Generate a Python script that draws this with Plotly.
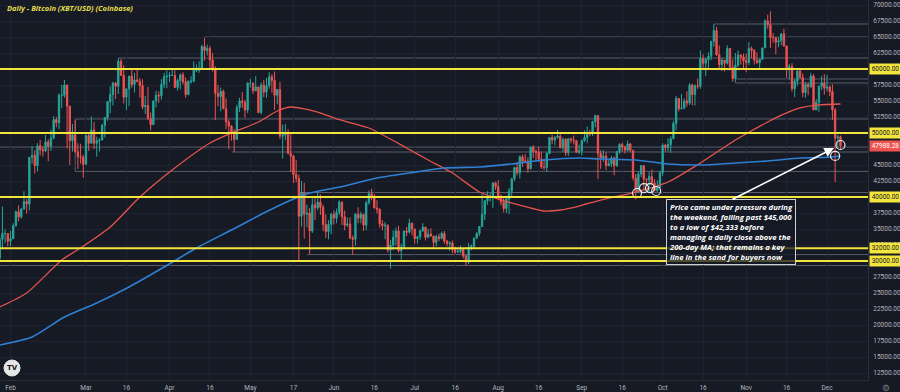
import numpy as np
import pandas as pd
import plotly.graph_objects as go

# ---------------- data (BTC/USD daily, values in thousands of USD) ----------------
start_date = "2021-01-28"
end_date = "2021-12-06"

opens_k = [
    30.4, 33.4, 34.3, 34.3,
    33.1, 33.5, 35.5, 37.7, 36.9, 38.1, 39.3, 38.9, 46.2, 46.5, 44.9, 48.0, 47.4, 47.2, 48.6, 47.9, 49.2, 52.1, 51.6, 55.9, 55.9, 57.5, 54.2, 48.8, 49.7, 47.1, 46.3, 46.2,
    45.1, 49.6, 48.4, 50.5, 48.4, 48.8, 48.9, 51.2, 52.4, 54.9, 56.0, 57.8, 57.3, 61.2, 59.0, 55.6, 56.9, 58.9, 57.6, 58.3, 58.1, 57.4, 54.1, 54.3, 52.3, 51.3, 55.0, 55.9, 55.8, 57.6, 58.8,
    58.9, 59.0, 59.0, 57.1, 58.2, 59.1, 58.0, 56.0, 58.1, 58.1, 59.8, 59.8, 60.0, 63.5, 62.9, 63.2, 61.4, 60.1, 56.2, 55.7, 56.5, 53.8, 51.7, 51.1, 50.0, 49.0, 54.0, 55.0, 54.8, 53.6,
    57.8, 57.8, 56.6, 57.2, 53.2, 57.5, 56.4, 57.4, 58.8, 58.2, 55.9, 56.8, 49.5, 49.7, 49.9, 46.8, 46.4, 43.5, 42.9, 37.0, 40.7, 37.3, 37.5, 34.7, 38.8, 38.3, 39.2, 38.4, 35.7, 34.6, 35.7,
    37.3, 36.7, 37.6, 39.2, 36.9, 35.6, 35.8, 33.6, 33.4, 37.3, 36.7, 37.3, 35.6, 39.1, 40.5, 40.1, 38.3, 38.1, 35.8, 35.5, 35.6, 31.7, 32.5, 33.7, 34.7, 31.6, 32.2, 34.7, 34.5, 35.9,
    35.0, 33.5, 33.8, 34.7, 35.3, 33.7, 34.2, 33.9, 32.9, 33.8, 33.5, 34.3, 33.1, 32.7, 32.8, 31.8, 31.4, 31.5, 31.8, 30.8, 29.8, 32.1, 32.3, 33.6, 34.3, 35.4, 37.3, 39.4, 40.0, 40.0, 42.2,
    41.6, 39.9, 39.2, 38.2, 39.7, 40.9, 42.8, 44.6, 43.8, 46.3, 45.6, 45.6, 44.4, 47.8, 47.1, 47.0, 45.9, 44.7, 44.6, 46.8, 49.3, 48.9, 49.3, 49.5, 47.7, 49.0, 46.9, 49.1, 48.9, 48.8, 47.0,
    47.2, 48.8, 49.3, 50.0, 49.9, 51.8, 52.7, 46.8, 46.1, 46.4, 44.9, 45.2, 46.1, 44.9, 47.1, 48.2, 47.8, 47.3, 48.3, 47.3, 43.0, 40.7, 43.6, 44.9, 42.8, 42.7, 43.2, 42.2, 41.0, 41.5,
    43.8, 48.1, 47.7, 48.2, 49.1, 51.5, 55.4, 53.8, 53.9, 55.0, 54.7, 57.5, 56.0, 57.4, 57.3, 61.7, 60.9, 61.5, 62.0, 64.3, 66.0, 62.2, 60.7, 61.4, 60.9, 63.2, 60.3, 58.5, 60.6, 62.2, 61.9,
    61.3, 61.0, 63.2, 62.9, 61.4, 61.0, 61.5, 63.3, 67.5, 66.9, 64.9, 64.9, 64.2, 64.4, 65.5, 63.6, 60.2, 60.4, 56.9, 58.1, 59.7, 58.7, 56.3, 57.6, 57.2, 58.9, 53.6, 54.8, 57.3, 57.8,
    57.0, 57.2, 56.5, 53.6, 49.2, 49.4,
]

highs_k = [
    33.8, 38.5, 34.9, 34.3,
    34.7, 35.9, 37.9, 38.7, 38.3, 40.9, 39.7, 46.2, 48.0, 47.3, 48.4, 48.9, 48.0, 49.7, 49.0, 50.5, 52.6, 52.5, 56.2, 57.5, 58.3, 57.5, 54.2, 51.4, 52.0, 48.4, 48.3, 46.6,
    49.8, 50.1, 52.6, 51.7, 49.4, 49.2, 51.4, 52.4, 54.9, 57.3, 58.0, 58.0, 61.7, 61.6, 60.6, 56.9, 58.9, 60.0, 59.4, 59.9, 58.6, 58.4, 55.8, 57.2, 53.2, 55.1, 56.6, 56.5, 58.4, 59.4, 59.8,
    59.5, 60.1, 59.8, 58.5, 59.3, 59.5, 58.7, 58.2, 58.9, 61.2, 60.7, 61.2, 63.8, 64.9, 63.8, 63.6, 62.5, 60.4, 57.5, 57.1, 56.8, 55.4, 52.1, 51.2, 50.6, 54.4, 55.5, 56.4, 55.2, 57.9,
    58.5, 57.9, 58.9, 57.2, 57.9, 58.3, 58.6, 59.5, 59.2, 59.6, 56.9, 58.0, 51.3, 51.4, 50.6, 49.8, 46.6, 45.8, 43.5, 42.5, 42.2, 38.8, 38.3, 39.8, 39.8, 40.8, 40.4, 38.8, 37.3, 36.4, 37.5,
    37.9, 38.2, 39.5, 39.3, 37.9, 36.8, 36.8, 34.0, 37.5, 38.4, 37.7, 37.4, 39.4, 41.0, 41.3, 40.5, 39.5, 38.2, 36.4, 36.1, 35.7, 33.3, 34.8, 35.2, 35.5, 32.7, 34.7, 35.3, 36.6, 36.0,
    35.0, 33.9, 34.9, 35.9, 35.3, 35.0, 35.1, 33.9, 34.1, 34.3, 34.6, 34.7, 33.3, 33.1, 33.2, 32.2, 31.9, 32.4, 31.9, 31.0, 32.8, 32.6, 33.6, 34.5, 35.4, 40.5, 39.5, 40.9, 40.6, 42.3, 42.4,
    42.6, 40.4, 39.8, 39.9, 41.4, 43.0, 44.7, 45.3, 46.5, 46.6, 46.7, 46.2, 47.9, 48.1, 47.4, 47.9, 47.1, 46.0, 47.0, 49.3, 49.7, 49.5, 50.5, 49.8, 49.3, 49.2, 49.2, 49.3, 49.6, 48.9, 48.2,
    49.0, 50.4, 51.0, 50.5, 51.9, 52.9, 52.8, 47.3, 47.3, 47.0, 45.9, 46.4, 46.3, 47.2, 48.4, 48.5, 48.0, 48.8, 48.4, 47.3, 43.6, 44.0, 45.0, 45.0, 42.9, 43.9, 44.3, 42.8, 42.6, 44.1,
    48.4, 48.3, 49.2, 49.5, 51.9, 55.8, 55.4, 56.1, 55.4, 56.5, 57.8, 57.7, 57.6, 58.5, 62.9, 62.3, 61.7, 62.6, 64.4, 67.0, 66.6, 63.7, 61.7, 61.4, 63.7, 63.3, 61.5, 62.5, 62.9, 62.2, 62.4,
    62.4, 64.2, 63.5, 63.1, 62.6, 61.6, 63.3, 67.8, 68.5, 69.0, 65.6, 65.0, 65.0, 65.5, 66.3, 63.6, 60.8, 60.9, 58.4, 59.8, 60.0, 59.3, 58.0, 57.8, 59.4, 59.2, 55.3, 57.4, 58.9, 59.2,
    59.1, 57.4, 57.6, 53.9, 49.7, 49.6,
]

lows_k = [
    30.0, 31.9, 32.8, 32.3,
    32.3, 33.4, 35.4, 36.2, 36.6, 38.1, 37.4, 37.9, 45.2, 43.7, 44.0, 46.5, 46.3, 47.0, 45.6, 47.2, 49.0, 50.9, 50.6, 53.9, 55.5, 47.6, 45.0, 47.1, 46.9, 44.4, 45.2, 43.0,
    45.1, 47.2, 48.4, 47.5, 46.3, 47.1, 48.9, 49.3, 51.9, 53.1, 54.3, 55.3, 56.1, 59.0, 54.6, 53.6, 54.2, 57.1, 56.3, 57.9, 55.5, 53.7, 53.0, 52.0, 50.4, 51.3, 54.0, 54.7, 55.2, 57.0, 57.0,
    58.0, 58.9, 57.1, 56.6, 56.8, 57.6, 55.5, 55.9, 57.7, 57.9, 59.5, 59.4, 60.0, 61.3, 62.1, 60.0, 59.6, 52.0, 54.2, 53.4, 53.7, 50.6, 47.5, 48.8, 47.0, 48.9, 53.3, 53.9, 52.4, 53.1,
    57.1, 56.1, 56.5, 53.1, 52.9, 55.6, 55.5, 56.9, 56.3, 53.6, 54.5, 49.1, 46.0, 48.9, 46.7, 43.9, 42.2, 42.3, 30.0, 35.4, 33.5, 35.3, 31.1, 34.4, 36.4, 37.9, 37.2, 34.7, 33.6, 33.4, 34.2,
    35.7, 35.9, 37.2, 35.6, 34.8, 35.3, 33.4, 31.0, 32.4, 35.9, 35.9, 34.7, 34.8, 38.8, 39.5, 38.2, 37.4, 35.2, 34.8, 33.4, 31.3, 28.8, 31.7, 32.4, 31.3, 30.2, 32.0, 33.9, 34.3, 34.0,
    32.7, 32.7, 33.3, 34.6, 33.2, 33.6, 33.8, 32.1, 32.3, 33.1, 33.4, 32.7, 32.3, 31.6, 31.2, 31.1, 31.2, 31.2, 30.4, 29.3, 29.5, 31.7, 31.9, 33.4, 33.9, 35.3, 36.4, 38.8, 39.3, 38.3, 41.1,
    39.5, 38.7, 37.6, 37.5, 37.3, 39.9, 42.5, 43.4, 42.9, 44.7, 45.4, 43.8, 44.3, 46.1, 45.6, 45.5, 44.4, 44.2, 43.9, 46.7, 48.3, 48.1, 49.1, 47.6, 47.1, 46.4, 46.4, 48.4, 48.2, 46.9, 46.7,
    46.5, 48.6, 48.4, 49.5, 49.5, 50.9, 42.8, 44.4, 45.5, 44.2, 44.8, 44.7, 43.4, 44.7, 46.7, 47.0, 46.8, 47.1, 47.0, 42.6, 39.6, 40.6, 43.1, 40.9, 41.7, 40.8, 42.1, 40.9, 40.8, 41.4,
    43.3, 47.1, 47.1, 46.9, 49.1, 50.4, 53.4, 53.7, 53.7, 54.1, 54.4, 54.3, 54.3, 56.9, 56.9, 60.2, 58.9, 60.2, 61.4, 63.5, 62.1, 60.0, 59.7, 59.6, 60.7, 59.8, 58.0, 57.9, 60.3, 60.7, 59.9,
    59.5, 60.6, 61.7, 60.7, 60.8, 60.1, 61.4, 63.3, 66.3, 63.3, 64.1, 62.3, 63.4, 63.7, 63.5, 58.6, 58.4, 56.5, 55.6, 57.4, 58.5, 55.6, 55.5, 55.9, 57.1, 53.6, 53.6, 53.3, 56.7, 56.0,
    56.5, 55.8, 52.0, 42.333, 47.7, 47.4,
]

closes_k = [
    33.4, 34.3, 34.3, 33.1,
    33.5, 35.5, 37.7, 36.9, 38.1, 39.3, 38.9, 46.2, 46.5, 44.9, 48.0, 47.4, 47.2, 48.6, 47.9, 49.2, 52.1, 51.6, 55.9, 55.9, 57.5, 54.2, 48.8, 49.7, 47.1, 46.3, 46.2, 45.1,
    49.6, 48.4, 50.5, 48.4, 48.8, 48.9, 51.2, 52.4, 54.9, 56.0, 57.8, 57.3, 61.2, 59.0, 55.6, 56.9, 58.9, 57.6, 58.3, 58.1, 57.4, 54.1, 54.3, 52.3, 51.3, 55.0, 55.9, 55.8, 57.6, 58.8, 58.9,
    59.0, 59.0, 57.1, 58.2, 59.1, 58.0, 56.0, 58.1, 58.1, 59.8, 59.8, 60.0, 63.5, 62.9, 63.2, 61.4, 60.1, 56.2, 55.7, 56.5, 53.8, 51.7, 51.1, 50.0, 49.0, 54.0, 55.0, 54.8, 53.6, 57.8,
    57.8, 56.6, 57.2, 53.2, 57.5, 56.4, 57.4, 58.8, 58.2, 55.9, 56.8, 49.5, 49.7, 49.9, 46.8, 46.4, 43.5, 42.9, 37.0, 40.7, 37.3, 37.5, 34.7, 38.8, 38.3, 39.2, 38.4, 35.7, 34.6, 35.7, 37.3,
    36.7, 37.6, 39.2, 36.9, 35.6, 35.8, 33.6, 33.4, 37.3, 36.7, 37.3, 35.6, 39.1, 40.5, 40.1, 38.3, 38.1, 35.8, 35.5, 35.6, 31.7, 32.5, 33.7, 34.7, 31.6, 32.2, 34.7, 34.5, 35.9, 35.0,
    33.5, 33.8, 34.7, 35.3, 33.7, 34.2, 33.9, 32.9, 33.8, 33.5, 34.3, 33.1, 32.7, 32.8, 31.8, 31.4, 31.5, 31.8, 30.8, 29.8, 32.1, 32.3, 33.6, 34.3, 35.4, 37.3, 39.4, 40.0, 40.0, 42.2, 41.6,
    39.9, 39.2, 38.2, 39.7, 40.9, 42.8, 44.6, 43.8, 46.3, 45.6, 45.6, 44.4, 47.8, 47.1, 47.0, 45.9, 44.7, 44.6, 46.8, 49.3, 48.9, 49.3, 49.5, 47.7, 49.0, 46.9, 49.1, 48.9, 48.8, 47.0, 47.2,
    48.8, 49.3, 50.0, 49.9, 51.8, 52.7, 46.8, 46.1, 46.4, 44.9, 45.2, 46.1, 44.9, 47.1, 48.2, 47.8, 47.3, 48.3, 47.3, 43.0, 40.7, 43.6, 44.9, 42.8, 42.7, 43.2, 42.2, 41.0, 41.5, 43.8,
    48.1, 47.7, 48.2, 49.1, 51.5, 55.4, 53.8, 53.9, 55.0, 54.7, 57.5, 56.0, 57.4, 57.3, 61.7, 60.9, 61.5, 62.0, 64.3, 66.0, 62.2, 60.7, 61.4, 60.9, 63.2, 60.3, 58.5, 60.6, 62.2, 61.9, 61.3,
    61.0, 63.2, 62.9, 61.4, 61.0, 61.5, 63.3, 67.5, 66.9, 64.9, 64.9, 64.2, 64.4, 65.5, 63.6, 60.2, 60.4, 56.9, 58.1, 59.7, 58.7, 56.3, 57.6, 57.2, 58.9, 53.6, 54.8, 57.3, 57.8, 57.0,
    57.2, 56.5, 53.6, 49.2, 49.4, 47.98828,
]

# moving averages
ma100_dates = ["2021-01-28", "2021-02-07", "2021-02-20", "2021-02-27", "2021-03-10", "2021-03-21",
               "2021-04-02", "2021-04-16", "2021-04-24", "2021-05-04", "2021-05-11", "2021-05-16",
               "2021-05-26", "2021-06-02", "2021-06-14", "2021-06-28", "2021-07-06", "2021-07-15",
               "2021-07-25", "2021-07-31", "2021-08-06", "2021-08-18", "2021-08-24", "2021-08-31",
               "2021-09-08", "2021-09-21", "2021-10-03", "2021-10-15", "2021-10-28", "2021-11-09",
               "2021-11-16", "2021-11-21", "2021-11-28", "2021-12-06"]
ma100_values = [22810, 25000, 30160, 32030, 35310, 40000, 44220, 48440, 50000, 51720, 53440, 54060,
                53280, 52190, 50780, 47660, 45780, 43750, 40780, 39840, 39060, 37810, 37970, 38590,
                39530, 40780, 42340, 45310, 48910, 51720, 53130, 53910, 54380, 54530]

ma200_dates = ["2021-01-28", "2021-02-09", "2021-02-21", "2021-03-05", "2021-03-17", "2021-03-30",
               "2021-04-11", "2021-04-24", "2021-05-06", "2021-05-17", "2021-05-23", "2021-06-05",
               "2021-06-17", "2021-06-29", "2021-07-12", "2021-07-25", "2021-08-06", "2021-08-18",
               "2021-08-31", "2021-09-08", "2021-09-21", "2021-10-03", "2021-10-15", "2021-10-28",
               "2021-11-09", "2021-11-21", "2021-12-03", "2021-12-06"]
ma200_values = [16870, 18120, 21250, 23440, 25940, 29060, 32030, 34840, 37500, 39690, 40630, 41720,
                42970, 43750, 44530, 44690, 45160, 45780, 46090, 45940, 45780, 45160, 45000, 45310,
                45630, 46090, 46250, 46450]

# key levels (yellow) and thin grey zone lines
key_levels = [60000, 50000, 40000, 32000, 30000]
zone_prices = [67030, 65000, 61720, 58440, 57810, 52190, 47800, 47030, 44000, 40700, 31000, 29300]
zone_starts = ["2021-10-20", "2021-04-14", "2021-03-13", "2021-10-28", "2021-10-28", "2021-02-25",
               "2021-01-28", "2021-04-24", "2021-02-25", "2021-05-19", "2021-05-22", "2021-01-28"]

# highlighted points (circles)
circle_dates = ["2021-12-06", "2021-12-04", "2021-09-21 12:00", "2021-09-24 02:00",
                "2021-09-26 07:00", "2021-09-28 14:00"]
circle_prices = [48125, 46410, 40625, 41400, 41400, 40940]

last_price = 47988.28

x_tickvals = ["2021-02-01", "2021-03-01", "2021-03-16", "2021-04-01", "2021-04-16", "2021-05-01",
              "2021-05-17", "2021-06-01", "2021-06-16", "2021-07-01", "2021-07-16", "2021-08-01",
              "2021-08-16", "2021-09-01", "2021-09-16", "2021-10-01", "2021-10-16", "2021-11-01",
              "2021-11-16", "2021-12-01"]
x_ticktext = ["Feb", "Mar", "16", "Apr", "16", "May", "17", "Jun", "16", "Jul", "16", "Aug",
              "16", "Sep", "16", "Oct", "16", "Nov", "16", "Dec"]

title_text = "Daily - Bitcoin (XBT/USD) (Coinbase)"
note_text = ("Price came under pressure during<br>the weekend, falling past $45,000<br>"
             "to a low of $42,333 before<br>managing a daily close above the<br>"
             "200-day MA; that remains a key<br>line in the sand for buyers now")

# ---------------- figure ----------------
dates = pd.date_range(start_date, end_date, freq="D")
o = np.array(opens_k) * 1000
h = np.array(highs_k) * 1000
l = np.array(lows_k) * 1000
c = np.array(closes_k) * 1000

BG = "#161a25"
GRID = "#1f2331"
YEL = "#f2e53d"
X_END = "2021-12-16 05:00"
X_START = "2021-01-28 02:24"

fig = go.Figure()

fig.add_trace(go.Candlestick(
    x=dates, open=o, high=h, low=l, close=c,
    increasing=dict(line=dict(color="#26a69a", width=1), fillcolor="#26a69a"),
    decreasing=dict(line=dict(color="#ef5350", width=1), fillcolor="#ef5350"),
    whiskerwidth=0, hoverinfo="skip", showlegend=False,
))

fig.add_trace(go.Scatter(x=ma100_dates, y=ma100_values, mode="lines",
                         line=dict(color="#e5544c", width=1.3, shape="spline", smoothing=0.6),
                         hoverinfo="skip", showlegend=False))
fig.add_trace(go.Scatter(x=ma200_dates, y=ma200_values, mode="lines",
                         line=dict(color="#2f7fd2", width=1.6, shape="spline", smoothing=0.6),
                         hoverinfo="skip", showlegend=False))

fig.add_trace(go.Scatter(x=circle_dates, y=circle_prices, mode="markers",
                         marker=dict(symbol="circle-open", size=9, color="#e8e8e8",
                                     line=dict(width=1.2, color="#e8e8e8")),
                         hoverinfo="skip", showlegend=False))

shapes = []
for p, s in zip(zone_prices, zone_starts):
    shapes.append(dict(type="line", xref="x", yref="y", x0=s, x1=X_END, y0=p, y1=p,
                       line=dict(color="#5a5e6a", width=1), layer="below"))
shapes.append(dict(type="line", xref="x", yref="y", x0=zone_starts[5], x1=zone_starts[5],
                   y0=zone_prices[8], y1=zone_prices[5], line=dict(color="#5a5e6a", width=1),
                   layer="below"))
for p in key_levels:
    shapes.append(dict(type="line", xref="paper", yref="y", x0=0, x1=1, y0=p, y1=p,
                       line=dict(color=YEL, width=2)))
# TradingView logo circle
shapes.append(dict(type="circle", xref="paper", yref="paper", xsizemode="pixel", ysizemode="pixel",
                   xanchor=12 / 868, yanchor=(380 - 368) / 380, x0=-8, x1=8, y0=-8, y1=8,
                   fillcolor="#e6e6e6", line=dict(color="#e6e6e6", width=1)))

annotations = []
annotations.append(dict(xref="paper", yref="paper", x=0.006, y=0.998, xanchor="left", yanchor="top",
                        text="<i><b>" + title_text + "</b></i>", showarrow=False,
                        font=dict(family="Open Sans", size=7.5, color="#e3dc4c")))
for p in key_levels:
    annotations.append(dict(xref="paper", yref="y", x=1, y=p, xanchor="left", yanchor="middle",
                            xshift=1, text=f"{p:.2f}", showarrow=False, bgcolor=YEL,
                            borderpad=1, width=29,
                            font=dict(family="Roboto", size=6.5, color="#131722")))
annotations.append(dict(xref="paper", yref="y", x=1, y=last_price, xanchor="left", yanchor="middle",
                        xshift=1, text=f"{last_price:.2f}", showarrow=False, bgcolor="#ef5350",
                        borderpad=1, width=29,
                        font=dict(family="Roboto", size=6.5, color="#ffffff")))
annotations.append(dict(xref="x", yref="y", x="2021-10-02 07:00", y=39690,
                        xanchor="left", yanchor="top", align="left", showarrow=False,
                        text="<i><b>" + note_text + "</b></i>",
                        bgcolor="rgba(22,26,37,0.75)", bordercolor="#d0d0d0", borderwidth=1,
                        borderpad=2,
                        font=dict(family="Open Sans", size=7.7, color="#ffffff")))
annotations.append(dict(xref="x", yref="y", axref="x", ayref="y",
                        x="2021-12-03 14:00", y=47650, ax="2021-10-26 10:00", ay=39530,
                        text="", showarrow=True, arrowhead=2, arrowsize=1.2, arrowwidth=1.6,
                        arrowcolor="#ffffff"))
annotations.append(dict(xref="paper", yref="paper", x=12 / 868, y=(380 - 368) / 380,
                        xanchor="center", yanchor="middle", text="<b>TV</b>", showarrow=False,
                        font=dict(family="DejaVu Sans", size=7, color="#131722")))
annotations.append(dict(xref="paper", yref="paper", x=1, y=0, xanchor="left", yanchor="top",
                        xshift=12, yshift=-1, text="⚙", showarrow=False,
                        font=dict(family="DejaVu Sans", size=9, color="#787b86")))

fig.update_layout(
    width=900, height=392,
    margin=dict(l=0, r=32, t=0, b=12),
    paper_bgcolor=BG, plot_bgcolor=BG,
    shapes=shapes, annotations=annotations,
    showlegend=False,
    xaxis=dict(
        type="date", range=[X_START, X_END], rangeslider=dict(visible=False),
        tickvals=x_tickvals, ticktext=x_ticktext,
        showgrid=True, gridcolor=GRID, gridwidth=1, zeroline=False,
        showline=True, linecolor="#2a2e39", linewidth=1,
        ticks="outside", ticklen=1, tickcolor=BG,
        tickfont=dict(family="Roboto", size=6.5, color="#b2b5be"),
        fixedrange=True,
    ),
    yaxis=dict(
        side="right", range=[11406, 70781], tick0=0, dtick=2500, tickformat=".2f",
        showgrid=True, gridcolor=GRID, gridwidth=1, zeroline=False,
        showline=True, linecolor="#2a2e39", linewidth=1,
        ticks="outside", ticklen=3, tickcolor=BG,
        tickfont=dict(family="Roboto", size=6.5, color="#b2b5be"),
        fixedrange=True,
    ),
)

fig.write_html("out.html", config={"displayModeBar": False},
               post_script="document.body.style.margin='0px';"
               "document.body.style.background='%s';" % BG)
